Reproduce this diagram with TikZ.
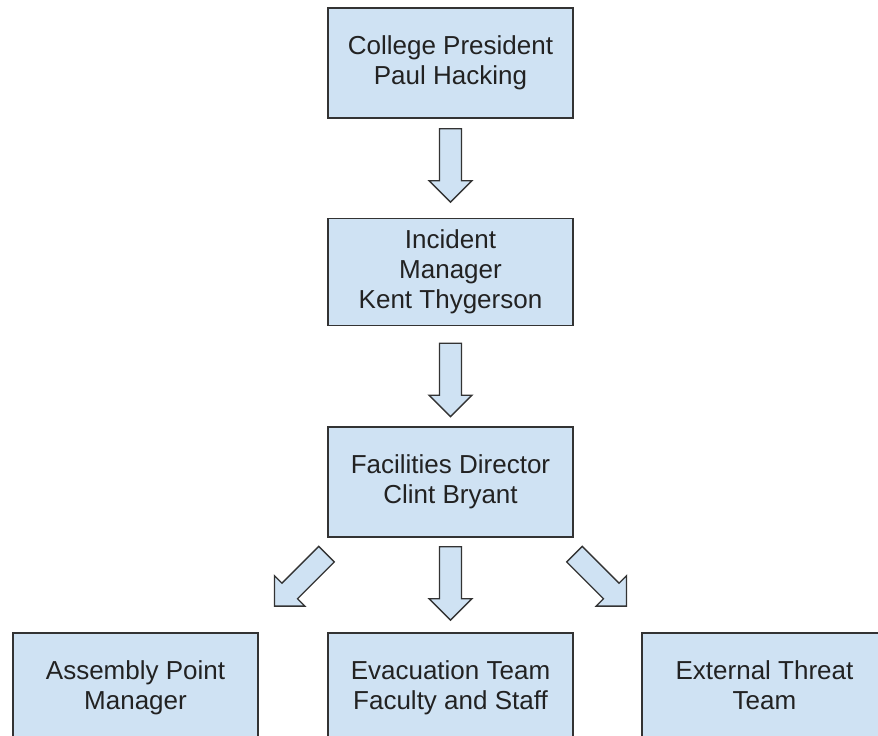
\documentclass[tikz,border=0pt]{standalone}
\usepackage{fontspec}
\setmainfont{Liberation Sans}
\usetikzlibrary{calc}
\definecolor{boxfill}{HTML}{CFE2F3}
\definecolor{boxline}{HTML}{333333}
\definecolor{txt}{HTML}{222222}
\tikzset{
  orgbox/.style={draw=boxline, fill=boxfill, line width=1.3pt, minimum width=245pt,
    minimum height=110pt, inner sep=0pt, align=center, text=txt,
    font=\fontsize{26}{30}\selectfont},
  blockarrow/.style={draw=boxline, fill=boxfill, line width=1.3pt, line join=miter}
}
\newcommand{\barrowshape}{(-11,0) -- (11,0) -- (11,52) -- (21.5,52) -- (0,73.5) -- (-21.5,52) -- (-11,52) -- cycle}
\begin{document}
\begin{tikzpicture}[x=1pt,y=-1pt]
\useasboundingbox (0,0) rectangle (878,736);
\clip (0,0) rectangle (878,736);
\node[orgbox] (pres) at (450.5,63) {College President\\Paul Hacking};
\node[orgbox, minimum height=107pt] (mgr) at (450.5,272) {Incident\\Manager\\Kent Thygerson};
\node[orgbox] (fac) at (450.5,482) {Facilities Director\\Clint Bryant};
\node[orgbox] (asm) at (135.5,688) {Assembly Point\\Manager};
\node[orgbox] (evac) at (450.5,688) {Evacuation Team\\Faculty and Staff};
\node[orgbox] (ext) at (764.5,688) {External Threat\\Team\vphantom{g}};
\begin{scope}[shift={($(pres.south)+(0,10)$)}]
  \draw[blockarrow] \barrowshape;
\end{scope}
\begin{scope}[shift={($(mgr.south)+(0,17)$)}]
  \draw[blockarrow] \barrowshape;
\end{scope}
\begin{scope}[shift={($(fac.south)+(0,9)$)}]
  \draw[blockarrow] \barrowshape;
\end{scope}
\begin{scope}[shift={($(fac.south)+(-124,16.5)$)}, rotate=-45]
  \draw[blockarrow] \barrowshape;
\end{scope}
\begin{scope}[shift={($(fac.south)+(124,16.5)$)}, rotate=45]
  \draw[blockarrow] \barrowshape;
\end{scope}
\end{tikzpicture}
\end{document}
